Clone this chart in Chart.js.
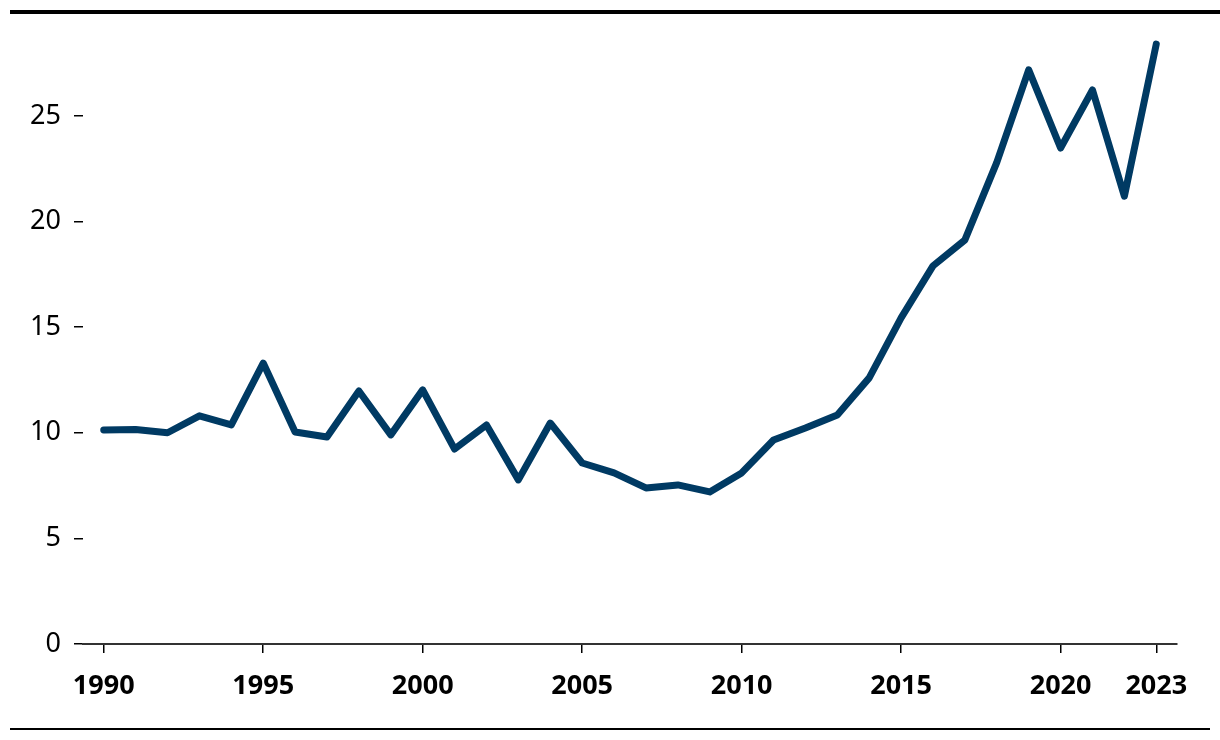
<!DOCTYPE html>
<html>
<head>
<meta charset="utf-8">
<script src="https://cdn.jsdelivr.net/npm/chart.js@4.4.1/dist/chart.umd.min.js"></script>
<style>
html,body{margin:0;padding:0;background:#fff;}
#wrap{position:relative;width:1220px;height:740px;}
</style>
</head>
<body>
<div id="wrap"><canvas id="c" width="1220" height="740"></canvas></div>
<script>
const years = [1990,1991,1992,1993,1994,1995,1996,1997,1998,1999,2000,2001,2002,2003,2004,2005,2006,2007,2008,2009,2010,2011,2012,2013,2014,2015,2016,2017,2018,2019,2020,2021,2022,2023];
const values = [10.13,10.15,10.0,10.8,10.37,13.3,10.04,9.8,11.98,9.9,12.03,9.23,10.37,7.77,10.46,8.57,8.1,7.39,7.53,7.2,8.1,9.66,10.23,10.84,12.6,15.44,17.9,19.13,22.8,27.18,23.48,26.23,21.2,28.4];
const xTickLabels = [1990,1995,2000,2005,2010,2015,2020,2023];
const yTickLabels = [0,5,10,15,20,25];

const FONT = "'Noto Sans', 'Open Sans', sans-serif";

const frameLines = {
  id: 'frameLines',
  afterDraw(chart) {
    const ctx = chart.ctx;
    ctx.save();
    ctx.fillStyle = '#000';
    ctx.fillRect(10, 10, 1210, 4);
    ctx.fillRect(10, 728, 1200, 2);
    ctx.restore();
  }
};

new Chart(document.getElementById('c'), {
  type: 'line',
  data: {
    datasets: [{
      data: years.map((y, i) => ({x: y, y: values[i]})),
      borderColor: '#003a63',
      borderWidth: 7,
      borderCapStyle: 'round',
      borderJoinStyle: 'round',
      pointRadius: 0,
      pointHoverRadius: 0,
      tension: 0,
      clip: false,
      fill: false
    }]
  },
  options: {
    responsive: false,
    animation: false,
    events: [],
    layout: { padding: { top: 42, left: 0, right: 43, bottom: 0 } },
    plugins: { legend: { display: false }, tooltip: { enabled: false } },
    scales: {
      x: {
        type: 'linear',
        min: 1989.35,
        max: 2023.65,
        afterFit(s) { s.height = 96; },
        afterBuildTicks(s) { s.ticks = xTickLabels.map(v => ({value: v})); },
        border: { display: true, color: '#333', width: 2 },
        grid: { display: true, drawOnChartArea: false, drawTicks: true, tickLength: 9, tickColor: '#000', lineWidth: 1.5 },
        ticks: {
          autoSkip: false,
          maxRotation: 0,
          padding: 17,
          color: '#000',
          font: { family: FONT, size: 27, weight: 'bold' },
          callback: v => String(v)
        }
      },
      y: {
        min: 0,
        max: 28.5,
        afterFit(s) { s.width = 83; },
        afterBuildTicks(s) { s.ticks = yTickLabels.map(v => ({value: v})); },
        border: { display: false },
        grid: { display: true, drawOnChartArea: false, drawTicks: true, tickLength: 9, tickColor: '#000', lineWidth: 1.5 },
        ticks: {
          padding: 13,
          color: '#000',
          font: { family: FONT, size: 27 },
          callback: v => String(v)
        }
      }
    }
  },
  plugins: [frameLines]
});
</script>
</body>
</html>
